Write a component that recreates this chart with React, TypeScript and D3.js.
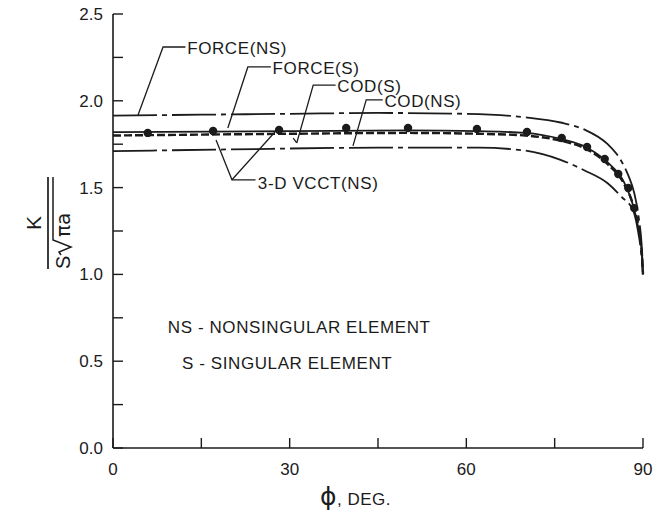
import * as d3 from "d3";
import React from "react";

// K / (S sqrt(pi a)) along the crack front, phi in degrees
const phiForceNS = [0, 15, 30, 45, 60, 70, 76, 80, 84, 86, 87.5, 88.5, 89.3, 89.8, 90];
const kForceNS = [1.915, 1.92, 1.925, 1.93, 1.925, 1.905, 1.875, 1.835, 1.75, 1.67, 1.57, 1.47, 1.32, 1.15, 1.0];

const phiForceS = [0, 30, 50, 62, 70, 76, 80.5, 84, 86.8, 88.2, 89.3, 89.8, 90];
const kForceS = [1.82, 1.825, 1.83, 1.825, 1.815, 1.78, 1.73, 1.645, 1.53, 1.41, 1.25, 1.12, 1.0];

const phiCodS = [0, 30, 50, 62, 70, 76, 80.5, 84, 86.8, 88.5, 89.5, 89.85, 90];
const kCodS = [1.8, 1.81, 1.815, 1.81, 1.8, 1.77, 1.72, 1.635, 1.52, 1.38, 1.22, 1.1, 1.0];

const phiCodNS = [0, 20, 45, 62, 69.6, 76, 80, 84, 86.4, 88.3, 89.1, 89.7, 90];
const kCodNS = [1.71, 1.72, 1.73, 1.73, 1.715, 1.66, 1.6, 1.525, 1.445, 1.37, 1.26, 1.12, 1.0];

const phiVcct = [5.9, 17, 28.2, 39.6, 50.1, 61.8, 70.3, 76.2, 80.5, 83.5, 85.8, 87.5, 88.5];
const kVcct = [1.815, 1.826, 1.832, 1.843, 1.843, 1.838, 1.82, 1.786, 1.734, 1.665, 1.578, 1.498, 1.382];

const yMajorTicks = [0, 0.5, 1.0, 1.5, 2.0, 2.5];
const yMinorTicks = [0.25, 0.75, 1.25, 1.75, 2.25];
const xMajorTicks = [0, 30, 60, 90];
const xMinorTicks = [15, 45, 75];

// callouts: label, text anchor, leader path (all in data units)
const callouts = [
  { label: "FORCE(NS)", at: [12.6, 2.305], path: [[4.25, 1.918], [8.5, 2.31], [12.3, 2.31]] },
  { label: "FORCE(S)", at: [27.1, 2.19], path: [[19.5, 1.843], [22.9, 2.195], [26.8, 2.195]] },
  { label: "COD(S)", at: [38.1, 2.085], path: [[31.2, 1.757], [34.0, 2.09], [37.8, 2.09]] },
  { label: "COD(NS)", at: [46.1, 2.0], path: [[40.75, 1.74], [43.0, 2.005], [45.8, 2.005]] },
  { label: "3-D VCCT(NS)", at: [24.6, 1.525], path: [[17.5, 1.774], [20.2, 1.545], [24.2, 1.545]] },
];
const vcctSecondLeader = [[20.2, 1.545], [27.5, 1.82]];
const codSCheck = [[30.6, 1.785], [31.2, 1.757]];

const notes = [
  { text: "NS - NONSINGULAR ELEMENT", at: [9.3, 0.695] },
  { text: "S - SINGULAR ELEMENT", at: [11.7, 0.488] },
];

const W = 654;
const H = 513;
const ink = "#1b1b1b";
const font = "'Liberation Sans', Arial, sans-serif";

export default function App() {
  const x = d3.scaleLinear().domain([0, 90]).range([113, 643]);
  const y = d3.scaleLinear().domain([0, 2.5]).range([448, 14]);

  const line = d3
    .line<number[]>()
    .x((d) => x(d[0]))
    .y((d) => y(d[1]))
    .curve(d3.curveMonotoneX);
  const straight = d3
    .line<number[]>()
    .x((d) => x(d[0]))
    .y((d) => y(d[1]));

  const zip = (a: number[], b: number[]) => a.map((v, i) => [v, b[i]]);

  const series = [
    { pts: zip(phiForceNS, kForceNS), dash: "44,5,5,5", w: 1.8 },
    { pts: zip(phiCodNS, kCodNS), dash: "44,5,5,5", w: 1.8 },
    { pts: zip(phiCodS, kCodS), dash: "8,3", w: 2.4 },
    { pts: zip(phiForceS, kForceS), dash: null, w: 1.8 },
  ];

  const tick = 10;

  return (
    <svg
      width={W}
      height={H}
      style={{ position: "absolute", left: 0, top: 0, background: "#fff" }}
      fontFamily={font}
    >
      {/* axes */}
      <line x1={x(0)} x2={x(0)} y1={y(0)} y2={y(2.5)} stroke={ink} strokeWidth={1.6} />
      <line x1={x(0)} x2={x(90)} y1={y(0)} y2={y(0)} stroke={ink} strokeWidth={1.6} />
      {yMajorTicks.concat(yMinorTicks).map((t) => (
        <line key={"yt" + t} x1={x(0)} x2={x(0) + tick} y1={y(t)} y2={y(t)} stroke={ink} strokeWidth={1.4} />
      ))}
      {xMajorTicks.concat(xMinorTicks).map((t) => (
        <line key={"xt" + t} x1={x(t)} x2={x(t)} y1={y(0)} y2={y(0) - tick} stroke={ink} strokeWidth={1.4} />
      ))}
      {yMajorTicks.map((t) => (
        <text key={"yl" + t} x={x(0) - 10} y={y(t)} dy="0.35em" textAnchor="end" fontSize={17} fill={ink}>
          {t.toFixed(1)}
        </text>
      ))}
      {xMajorTicks.map((t) => (
        <text key={"xl" + t} x={x(t)} y={y(0) + 21} dy="0.35em" textAnchor="middle" fontSize={17} fill={ink}>
          {t}
        </text>
      ))}

      {/* axis titles */}
      <text x={320} y={505} fontSize={17} fill={ink} letterSpacing={0.5}>
        <tspan fontSize={25} fontFamily="'DejaVu Sans', sans-serif">ϕ</tspan>
        <tspan>, DEG.</tspan>
      </text>
      <g transform="translate(48,223) rotate(-90)" fill={ink}>
        <text x={0} y={-7} textAnchor="middle" fontSize={21}>K</text>
        <line x1={-46} x2={46} y1={0} y2={0} stroke={ink} strokeWidth={1.7} />
        <text x={-46} y={22} fontSize={20}>S</text>
        <path d="M-32,13 L-29,11 L-24,23 L-17,5 L46,5" fill="none" stroke={ink} strokeWidth={1.5} />
        <text x={-14} y={22} fontSize={20} fontFamily="'DejaVu Sans', sans-serif">πa</text>
      </g>

      {/* curves */}
      {series.map((s, i) => (
        <path
          key={"s" + i}
          d={line(s.pts) || ""}
          fill="none"
          stroke={ink}
          strokeWidth={s.w}
          strokeDasharray={s.dash || undefined}
        />
      ))}
      {phiVcct.map((p, i) => (
        <circle key={"v" + i} cx={x(p)} cy={y(kVcct[i])} r={4.2} fill={ink} />
      ))}

      {/* callouts */}
      {callouts.map((c) => (
        <g key={c.label}>
          <path d={straight(c.path) || ""} fill="none" stroke={ink} strokeWidth={1.3} />
          <text x={x(c.at[0])} y={y(c.at[1])} dy="0.35em" fontSize={17} fill={ink} letterSpacing={0.6}>
            {c.label}
          </text>
        </g>
      ))}
      <path d={straight(vcctSecondLeader) || ""} fill="none" stroke={ink} strokeWidth={1.3} />
      <path d={straight(codSCheck) || ""} fill="none" stroke={ink} strokeWidth={1.3} />

      {notes.map((n) => (
        <text key={n.text} x={x(n.at[0])} y={y(n.at[1])} dy="0.35em" fontSize={17} fill={ink} letterSpacing={0.6}>
          {n.text}
        </text>
      ))}
    </svg>
  );
}
